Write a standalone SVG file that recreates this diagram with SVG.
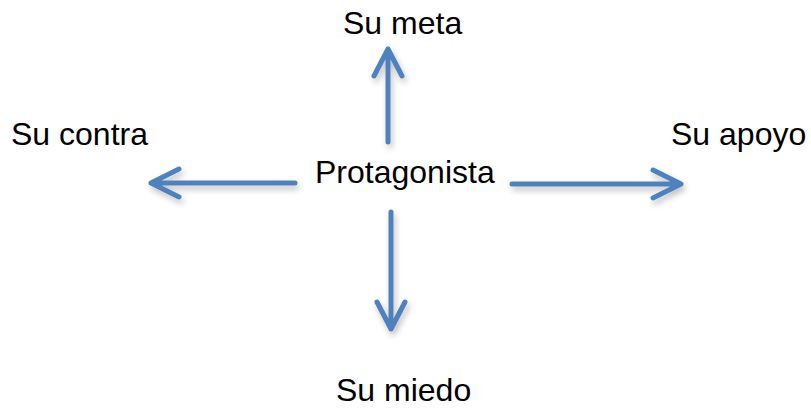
<svg xmlns="http://www.w3.org/2000/svg" width="811" height="408" viewBox="0 0 811 408">
<style>
.t{font-family:"Liberation Sans",Arial,sans-serif;font-size:32px;fill:#000}
.a{fill:none;stroke:#4F81BD;stroke-width:5;stroke-linecap:round;stroke-linejoin:round}
</style>
<defs>
<filter id="sh" x="-30%" y="-30%" width="160%" height="160%">
<feGaussianBlur in="SourceAlpha" stdDeviation="3"/>
<feOffset dx="2" dy="4" result="b"/>
<feComponentTransfer><feFuncA type="linear" slope="0.25"/></feComponentTransfer>
<feMerge><feMergeNode/><feMergeNode in="SourceGraphic"/></feMerge>
</filter>
</defs>
<rect width="811" height="408" fill="#fff"/>
<g id="connectors" filter="url(#sh)">
<path class="a" d="M388 142 V49 M374 76 L388 49 L402 76"/>
<path class="a" d="M295 183 H151 M179 169 L151 183 L179 197"/>
<path class="a" d="M512 184 H681 M653 170 L681 184 L653 198"/>
<path class="a" d="M391 212 V329 M377 302 L391 329 L405 302"/>
</g>
<g id="meta"><text class="t" x="343" y="34">Su meta</text></g>
<g id="contra"><text class="t" x="11" y="145">Su contra</text></g>
<g id="apoyo"><text class="t" x="671" y="145">Su apoyo</text></g>
<g id="protagonista"><text class="t" x="315" y="183">Protagonista</text></g>
<g id="miedo"><text class="t" x="336" y="401">Su miedo</text></g>
</svg>
